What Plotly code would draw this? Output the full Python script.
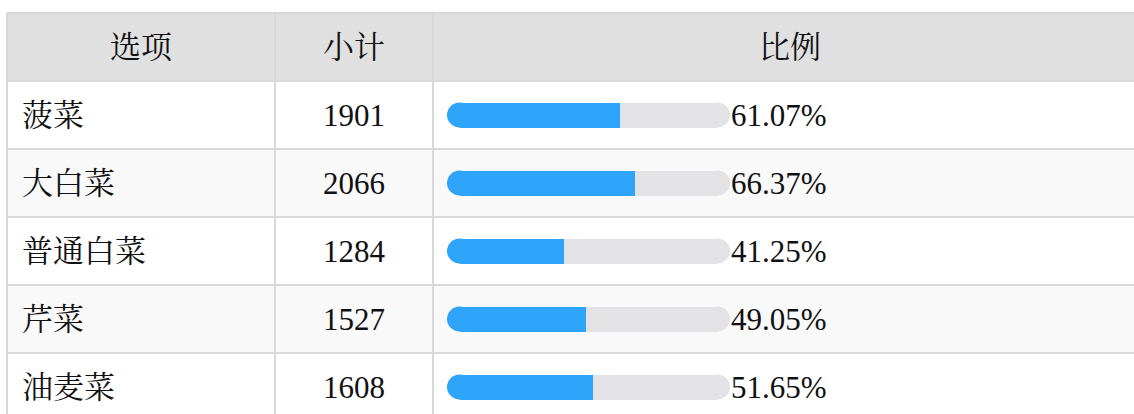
import plotly.graph_objects as go

# ---- data ----
headers = ["选项", "小计", "比例"]
options = ["菠菜", "大白菜", "普通白菜", "芹菜", "油麦菜"]
counts = [1901, 2066, 1284, 1527, 1608]
percents = [61.07, 66.37, 41.25, 49.05, 51.65]

# ---- layout constants (pixels) ----
W, H = 1134, 414
ROW_PX = 68
TOP_PX = 13
COL_EDGES = [7, 275, 433, 1147]
BAR_LEFT, BAR_RIGHT = 447, 730
BAR_H = 25
TEXT_LEFT = 20

FONT = "Liberation Serif, 'Times New Roman', 'Noto Serif CJK SC', 'Noto Sans CJK SC', serif"
TXT_COLOR = "#111111"
LINE_COLOR = "#d9d9d9"
HEAD_BG = "#e0e0e0"
ALT_BG = "#f9f9f9"
BLUE = "#2ea4fa"
TRACK = "#e3e3e5"


def px(x):
    return x / W


n = len(options)
y_top = -1.5 - TOP_PX / ROW_PX
y_bot = y_top + H / ROW_PX
# radius of the rounded bar ends, in axis units (0..100 over the bar column)
r_u = (BAR_H / 2) / (BAR_RIGHT - BAR_LEFT) * 100
bar_w = BAR_H / ROW_PX

fig = go.Figure()
# gray track: rectangle from value to (100 - r), plus round cap at the right end
fig.add_trace(go.Bar(
    y=options, x=[100 - r_u - p for p in percents], base=percents, orientation="h",
    marker=dict(color=TRACK, line=dict(width=0)), width=bar_w,
    hoverinfo="skip", showlegend=False,
))
fig.add_trace(go.Scatter(
    y=options, x=[100 - r_u] * n, mode="markers", cliponaxis=False,
    marker=dict(color=TRACK, size=BAR_H, symbol="circle", line=dict(width=0)),
    hoverinfo="skip", showlegend=False,
))
# blue fill: rectangle from r to value, plus round cap at the left end
fig.add_trace(go.Bar(
    y=options, x=[p - r_u for p in percents], base=[r_u] * n, orientation="h",
    marker=dict(color=BLUE, line=dict(width=0)), width=bar_w, showlegend=False,
    customdata=percents, hovertemplate="%{y}: %{customdata:.2f}%<extra></extra>",
))
fig.add_trace(go.Scatter(
    y=options, x=[r_u] * n, mode="markers", cliponaxis=False,
    marker=dict(color=BLUE, size=BAR_H, symbol="circle", line=dict(width=0)),
    hoverinfo="skip", showlegend=False,
))

shapes = []
# header background
shapes.append(dict(type="rect", xref="paper", yref="y", x0=px(COL_EDGES[0]), x1=px(COL_EDGES[-1]),
                   y0=-1.5, y1=-0.5, fillcolor=HEAD_BG, line=dict(width=0), layer="below"))
# row backgrounds
for i in range(n):
    shapes.append(dict(type="rect", xref="paper", yref="y", x0=px(COL_EDGES[0]), x1=px(COL_EDGES[-1]),
                       y0=i - 0.5, y1=i + 0.5, fillcolor="#ffffff" if i % 2 == 0 else ALT_BG,
                       line=dict(width=0), layer="below"))
# horizontal grid lines
for b in range(-1, n + 1):
    shapes.append(dict(type="line", xref="paper", yref="y", x0=px(COL_EDGES[0]), x1=px(COL_EDGES[-1]),
                       y0=b - 0.5, y1=b - 0.5, line=dict(color=LINE_COLOR, width=2), layer="below"))
# vertical grid lines
for e in COL_EDGES:
    shapes.append(dict(type="line", xref="paper", yref="y", x0=px(e), x1=px(e),
                       y0=-1.5, y1=n + 0.5, line=dict(color=LINE_COLOR, width=2), layer="below"))

annotations = []
font = dict(family=FONT, size=31, color=TXT_COLOR)
for j, h in enumerate(headers):
    cx = (COL_EDGES[j] + COL_EDGES[j + 1]) / 2
    annotations.append(dict(xref="paper", yref="y", x=px(cx), y=-1, text=h, showarrow=False,
                            xanchor="center", yanchor="middle", font=font))
for i, name in enumerate(options):
    annotations.append(dict(xref="paper", yref="y", x=px(TEXT_LEFT), y=i, text=name, showarrow=False,
                            xanchor="left", yanchor="middle", font=font))
    annotations.append(dict(xref="paper", yref="y", x=px((COL_EDGES[1] + COL_EDGES[2]) / 2), y=i,
                            text=str(counts[i]), showarrow=False, xanchor="center", yanchor="middle",
                            font=font))
    annotations.append(dict(xref="x", yref="y", x=100, y=i, text=f"{percents[i]:.2f}%", showarrow=False,
                            xanchor="left", yanchor="middle", xshift=-1, font=font))

fig.update_layout(
    width=W, height=H, autosize=False,
    margin=dict(l=0, r=0, t=0, b=0, pad=0),
    paper_bgcolor="#ffffff", plot_bgcolor="rgba(0,0,0,0)",
    barmode="overlay", bargap=0,
    shapes=shapes, annotations=annotations,
    xaxis=dict(domain=[px(BAR_LEFT), px(BAR_RIGHT)], range=[0, 100], visible=False, fixedrange=True),
    yaxis=dict(type="category", categoryorder="array", categoryarray=options,
               range=[y_bot, y_top], visible=False, fixedrange=True, domain=[0, 1]),
    showlegend=False,
)

fig.write_html("out.html", config={"displayModeBar": False},
               post_script="document.body.style.margin='0';document.body.style.overflow='hidden';")
